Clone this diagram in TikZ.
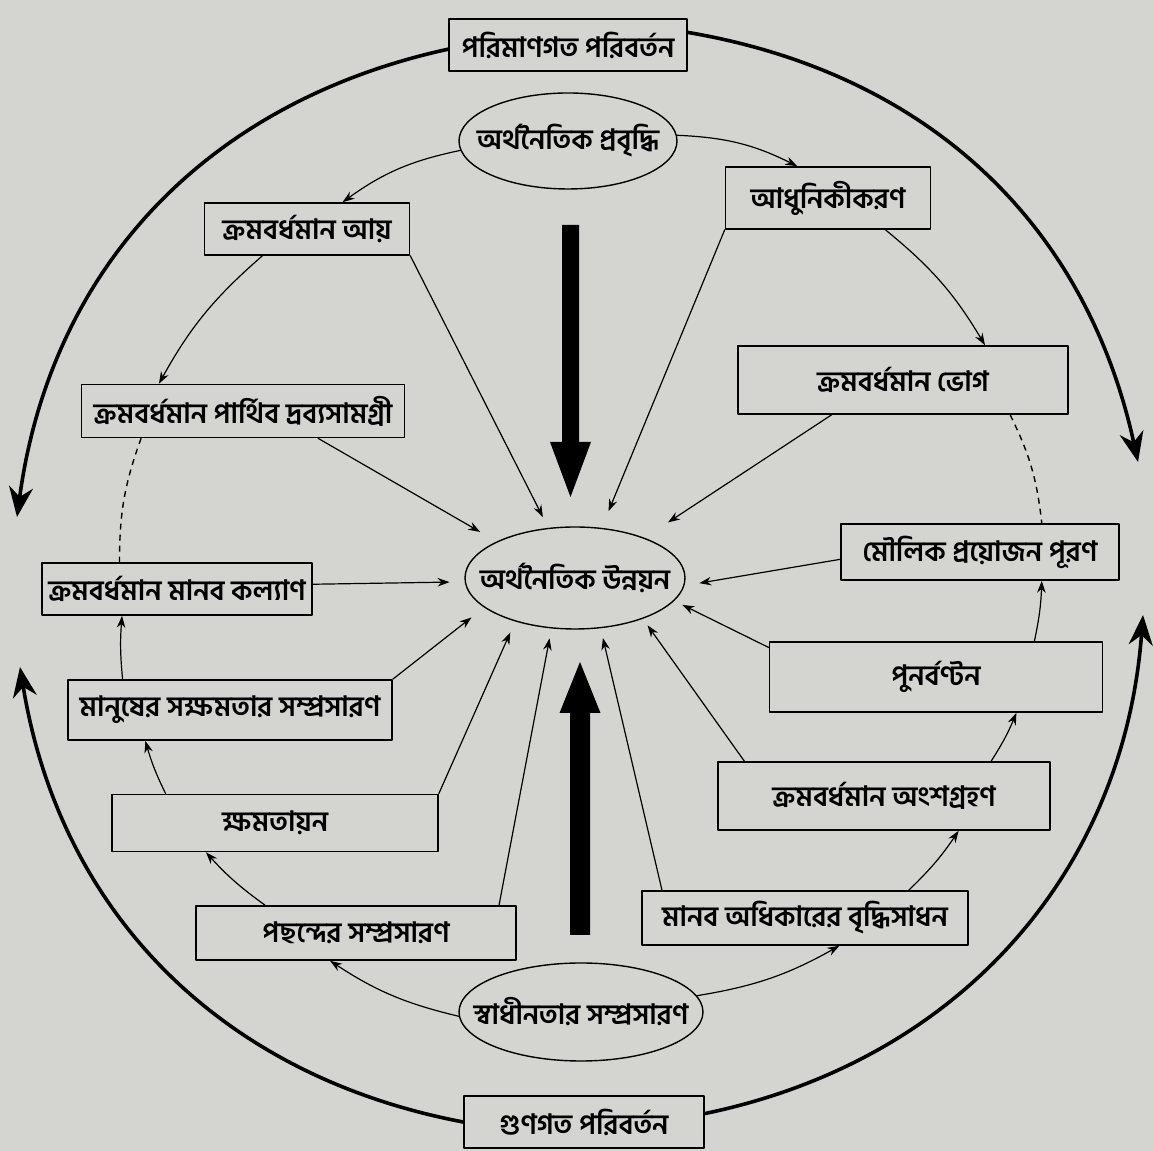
\documentclass[tikz,border=0pt]{standalone}
\usepackage{fontspec}
\newfontfamily\bnfont[Script=Bengali]{Hind Siliguri}
\usetikzlibrary{shapes.geometric,arrows.meta}
\definecolor{paper}{RGB}{212,212,209}
\begin{document}
\begin{tikzpicture}[x=1pt,y=1pt,font=\bnfont\bfseries\fontsize{28}{32}\selectfont,line join=round,line cap=round,>={Stealth[length=12pt,width=8.5pt]},
	box/.style={draw,line width=1.6pt,inner sep=0pt},
	oval/.style={draw,ellipse,line width=1.4pt,inner sep=0pt},
	link/.style={->,line width=1.2pt},
	dashlink/.style={line width=1.4pt,dash pattern=on 6pt off 5pt,line cap=butt},
	ring/.style={-{Stealth[length=30pt,width=24pt]},line width=3.6pt}]
	\fill[paper] (0,0) rectangle (1154,1151);
	\useasboundingbox (0,0) rectangle (1154,1151);
	% boxes
	\foreach \n/\x/\y/\w/\h/\t in {
		qty/568/1106/238/52/পরিমাণগত পরিবর্তন,
		income/307/922/205/52/ক্রমবর্ধমান আয়,
		modern/828/953/205/62/আধুনিকীকরণ,
		goods/243/740/323/53/ক্রমবর্ধমান পার্থিব দ্রব্যসামগ্রী,
		consump/903/771/330/68/ক্রমবর্ধমান ভোগ,
		welfare/177/562/270/52/ক্রমবর্ধমান মানব কল্যাণ,
		needs/980/599/278/56/মৌলিক প্রয়োজন পূরণ,
		capab/230/441/324/60/মানুষের সক্ষমতার সম্প্রসারণ,
		redist/936/474/333/70/পুনর্বণ্টন,
		empower/275/328/326/57/ক্ষমতায়ন,
		particip/884/355/332/68/ক্রমবর্ধমান অংশগ্রহণ,
		choice/356/218/320/54/পছন্দের সম্প্রসারণ,
		rights/805/233/326/54/মানব অধিকারের বৃদ্ধিসাধন,
		qual/584/29/240/52/গুণগত পরিবর্তন}
	\node[box,minimum width=\w,minimum height=\h] (\n) at (\x,\y) {\makebox[0pt]{\t}};
	\foreach \n/\x/\y/\w/\h/\t in {
		growth/568/1010/218/96/অর্থনৈতিক প্রবৃদ্ধি,
		dev/575/573/220/102/অর্থনৈতিক উন্নয়ন,
		freedom/581/139/244/98/স্বাধীনতার সম্প্রসারণ}
	\node[oval,minimum width=\w,minimum height=\h] (\n) at (\x,\y) {\makebox[0pt]{\t}};
	% spokes into the centre
	\foreach \a/\b/\s in {income.south east/dev.118/12, goods.-20/dev.155/19,
		welfare.2/dev.182/15, capab.north east/dev.198/16, empower.north east/dev.216/12,
		choice.11/dev.245/10, rights.169/dev.297/10, particip.166/dev.329/8,
		redist.170/dev.347/9, needs.183/dev.356/15, consump.206/dev.30/28,
		modern.south west/dev.62/18}
	\draw[link,shorten >=\s] (\a) -- (\b);
	% inner ring
	\foreach \a/\b/\d in {growth.185/income.37/-12, growth.3/modern.134/12,
		income.211/goods.162/-10, modern.331/consump.23/10,
		capab.164/welfare.206/5, empower.165/capab.200/5, choice.163/empower.203/6,
		freedom.182/choice.227/10, freedom.8/rights.321/-10, rights.15/particip.335/-6,
		particip.18/redist.336/-5, redist.20/needs.335/-5}
	\draw[link] (\a) to[bend left=\d] (\b);
	\draw[dashlink] (goods.195) to[bend right=10] (welfare.155);
	\draw[dashlink] (consump.342) to[bend left=10] (needs.25);
	% outer ring
	\path (17,634) coordinate (ql) (1138,689) coordinate (qr)
		(20,484) coordinate (gl) (1143,536) coordinate (gr);
	\draw[ring] (qty.182) to[bend right=35] (ql);
	\draw[ring] (qty.6) to[bend left=34] (qr);
	\draw[ring] (qual.west) to[bend left=35] (gl);
	\draw[ring] (qual.4) to[bend right=37] (gr);
	% big arrows
	\fill (562,926) -- (579,926) -- (579,709) -- (591,709) -- (570.5,654) -- (550,709) -- (562,709) -- cycle;
	\fill (570,216) -- (590,216) -- (590,438) -- (600.5,438) -- (580,489) -- (559.5,438) -- (570,438) -- cycle;
\end{tikzpicture}
\end{document}
